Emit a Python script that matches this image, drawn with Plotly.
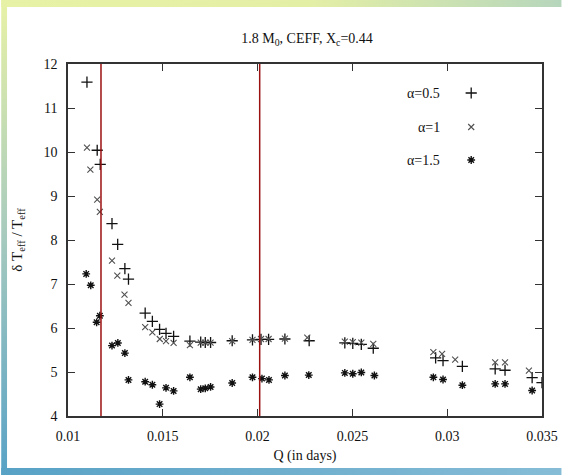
import base64
import plotly.graph_objects as go

# ---------------- data ----------------
q_a05 = [0.01100, 0.01154, 0.01170, 0.01232, 0.01262, 0.01300, 0.01319, 0.01407, 0.01445,
         0.01483, 0.01517, 0.01557, 0.01643, 0.01700, 0.01724, 0.01752, 0.01866, 0.01973,
         0.02018, 0.02058, 0.02144, 0.02272, 0.02460, 0.02502, 0.02547, 0.02610, 0.02939,
         0.02978, 0.03080, 0.03253, 0.03305, 0.03448, 0.03500]
d_a05 = [11.59, 10.04, 9.72, 8.37, 7.90, 7.35, 7.11, 6.34, 6.15,
         5.97, 5.88, 5.81, 5.70, 5.68, 5.67, 5.67, 5.71, 5.73,
         5.74, 5.74, 5.75, 5.71, 5.66, 5.65, 5.63, 5.54, 5.32,
         5.26, 5.13, 5.07, 5.04, 4.87, 4.76]

q_a10 = [0.01100, 0.01118, 0.01154, 0.01168, 0.01232, 0.01260, 0.01298, 0.01319, 0.01407,
         0.01445, 0.01484, 0.01517, 0.01557, 0.01643, 0.01700, 0.01724, 0.01752, 0.01866,
         0.01973, 0.02018, 0.02058, 0.02144, 0.02262, 0.02460, 0.02502, 0.02547, 0.02610,
         0.02927, 0.02973, 0.03042, 0.03253, 0.03305, 0.03431]
d_a10 = [10.10, 9.60, 8.92, 8.64, 7.53, 7.19, 6.76, 6.57, 6.02,
         5.90, 5.75, 5.70, 5.66, 5.61, 5.67, 5.67, 5.67, 5.70,
         5.73, 5.75, 5.75, 5.76, 5.78, 5.69, 5.68, 5.67, 5.64,
         5.45, 5.41, 5.28, 5.22, 5.22, 5.03]

q_a15 = [0.01096, 0.01120, 0.01151, 0.01168, 0.01232, 0.01263, 0.01300, 0.01319, 0.01407,
         0.01445, 0.01483, 0.01517, 0.01557, 0.01643, 0.01700, 0.01724, 0.01752, 0.01866,
         0.01973, 0.02023, 0.02060, 0.02144, 0.02270, 0.02460, 0.02502, 0.02547, 0.02616,
         0.02927, 0.02978, 0.03080, 0.03253, 0.03305, 0.03448]
d_a15 = [7.23, 6.97, 6.13, 6.28, 5.60, 5.66, 5.43, 4.82, 4.78,
         4.71, 4.27, 4.64, 4.57, 4.88, 4.61, 4.63, 4.66, 4.75,
         4.88, 4.85, 4.82, 4.92, 4.93, 4.98, 4.96, 4.99, 4.92,
         4.88, 4.83, 4.70, 4.73, 4.73, 4.58]

boundary_q = [0.01174, 0.02011]

x_ticks = [0.01, 0.015, 0.02, 0.025, 0.03, 0.035]
x_tick_labels = ["0.01", "0.015", "0.02", "0.025", "0.03", "0.035"]
y_ticks = [4, 5, 6, 7, 8, 9, 10, 11, 12]

legend_names = ["α=0.5", "α=1", "α=1.5"]

# ---------------- styling ----------------
SERIF = "Liberation Serif, Times New Roman, serif"
W, H = 570, 475
ML, MR, MT, MB = 68, 20, 64, 59
PW, PH = W - ML - MR, H - MT - MB

series_styles = [
    dict(symbol="cross-thin", size=8, line=dict(width=1.3, color="#111111"), color="#111111"),
    dict(symbol="x-thin", size=6, line=dict(width=1.1, color="#505050"), color="#505050"),
    dict(symbol="asterisk", size=6.5, line=dict(width=1.4, color="#111111"), color="#111111"),
]

fig = go.Figure()
for (qx, dy), st, nm in zip([(q_a05, d_a05), (q_a10, d_a10), (q_a15, d_a15)], series_styles, legend_names):
    fig.add_trace(go.Scatter(x=qx, y=dy, mode="markers", name=nm, marker=st,
                             showlegend=False, xaxis="x", yaxis="y"))

# manual legend (text left of symbol, as in the reference)
key_px_y = [93, 127, 160]
key_px_x = 478
text_px_x = 448
for nm, st, py in zip(legend_names, series_styles, key_px_y):
    fy = (H - MB - py) / PH
    fig.add_annotation(x=(text_px_x - ML) / PW, y=fy, xref="paper", yref="paper",
                       text=nm, showarrow=False, xanchor="right", yanchor="middle",
                       font=dict(family=SERIF, size=14, color="#111111"))
    fig.add_trace(go.Scatter(x=[(key_px_x - ML) / PW], y=[fy], mode="markers", marker=st,
                             showlegend=False, xaxis="x2", yaxis="y2", hoverinfo="skip"))

for bq in boundary_q:
    fig.add_shape(type="line", xref="x", yref="paper", x0=bq, x1=bq, y0=0, y1=1,
                  line=dict(color="#9b1010", width=1.5))

# decorative gradient frame
svg = f'''<svg xmlns="http://www.w3.org/2000/svg" width="{W}" height="{H}" viewBox="0 0 {W} {H}">
<defs>
<linearGradient id="t" x1="0" y1="0" x2="1" y2="0"><stop offset="0" stop-color="#e8f2a6"/><stop offset="0.55" stop-color="#e4efa6"/><stop offset="1" stop-color="#b6d6bc"/></linearGradient>
<linearGradient id="l" x1="0" y1="0" x2="0" y2="1"><stop offset="0" stop-color="#e8f2a6"/><stop offset="0.5" stop-color="#a6cabe"/><stop offset="1" stop-color="#58a2c6"/></linearGradient>
<linearGradient id="b" x1="0" y1="0" x2="1" y2="0"><stop offset="0" stop-color="#58a2c6"/><stop offset="1" stop-color="#86bcd6"/></linearGradient>
</defs>
<rect x="0" y="0" width="{W}" height="7" fill="url(#t)"/>
<rect x="0" y="0" width="6" height="{H}" fill="url(#l)"/>
<rect x="0" y="468" width="{W}" height="7" fill="url(#b)"/>
</svg>'''
src = "data:image/svg+xml;base64," + base64.b64encode(svg.encode()).decode()
fig.add_layout_image(dict(source=src, xref="paper", yref="paper", x=-ML / PW, y=(H - MB) / PH,
                          sizex=W / PW, sizey=H / PH, xanchor="left", yanchor="top",
                          sizing="stretch", layer="below"))

axis_common = dict(showline=True, linecolor="#333333", linewidth=1.5, mirror="ticks",
                   ticks="inside", ticklen=7, tickwidth=1.3, tickcolor="#333333",
                   showgrid=False, zeroline=False,
                   tickfont=dict(family=SERIF, size=14, color="#111111"))

fig.update_layout(
    width=W, height=H,
    margin=dict(l=ML, r=MR, t=MT, b=MB, pad=0),
    paper_bgcolor="white", plot_bgcolor="white",
    title=dict(text="1.8 M<sub>0</sub>, CEFF, X<sub>c</sub>=0.44", x=307 / W, xanchor="center",
               y=1 - 38 / H, yanchor="middle", font=dict(family=SERIF, size=14, color="#111111")),
    xaxis=dict(range=[0.01, 0.035], tickvals=x_ticks, ticktext=x_tick_labels,
               ticklabelstandoff=6,
               title=dict(text="Q (in days)", standoff=8, font=dict(family=SERIF, size=14, color="#111111")),
               **axis_common),
    yaxis=dict(range=[4, 12], tickvals=y_ticks, ticklabelstandoff=6,
               title=dict(text="δ T<sub>eff</sub> / T<sub>eff</sub>", standoff=17,
                          font=dict(family=SERIF, size=15, color="#111111")),
               **axis_common),
    xaxis2=dict(range=[0, 1], overlaying="x", visible=False, fixedrange=True),
    yaxis2=dict(range=[0, 1], overlaying="y", visible=False, fixedrange=True),
    showlegend=False,
)

fig.write_html("out.html")
